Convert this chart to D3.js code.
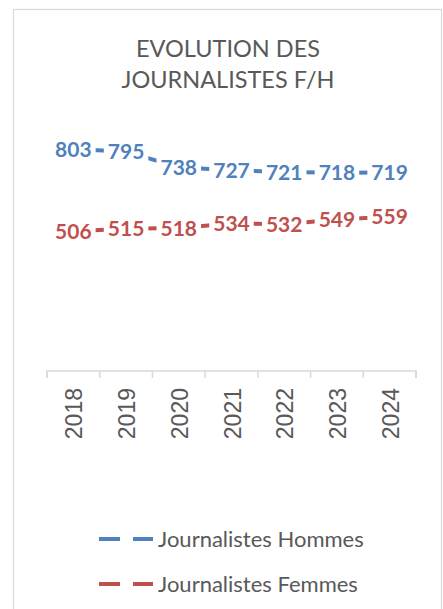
<!DOCTYPE html>
<html><head><meta charset="utf-8">
<script src="https://cdn.jsdelivr.net/npm/d3@7"></script>
<style>
html,body{margin:0;padding:0;background:#fff;}
svg{display:block;}
</style></head>
<body>
<svg id="chart" width="443" height="609"></svg>
<script>
const years = ["2018","2019","2020","2021","2022","2023","2024"];
const hommes = [803, 795, 738, 727, 721, 718, 719];
const femmes = [506, 515, 518, 534, 532, 549, 559];
const seriesNames = ["Journalistes Hommes", "Journalistes Femmes"];
const seriesColors = ["#4F81BD", "#C0504D"];
const titleLines = ["EVOLUTION DES", "JOURNALISTES F/H"];

const svg = d3.select("#chart");
const gray = "#595959";

// chart frame
svg.append("rect").attr("x", 13.5).attr("y", 9.5).attr("width", 428).attr("height", 640)
  .attr("fill", "#fff").attr("stroke", "#d9d9d9").attr("stroke-width", 1.2);

// title
svg.append("g").selectAll("text").data(titleLines).join("text")
  .attr("x", 228).attr("y", (d, i) => 57 + i * 31)
  .attr("text-anchor", "middle")
  .attr("font-family", "Lato, 'Open Sans', sans-serif")
  .attr("font-size", 23.5).attr("fill", gray)
  .text(d => d);

const x = d3.scaleBand().domain(years).range([47, 416]);
const y = d3.scaleLinear().domain([0, 1000]).range([371, 95]);

// axis
const axis = d3.axisBottom(x).tickSize(7).tickSizeOuter(7).tickFormat("");
const ag = svg.append("g").attr("transform", "translate(0,371)").call(axis);
ag.select(".domain").attr("stroke", "#d9d9d9").attr("stroke-width", 1.5);
ag.selectAll(".tick line").remove();
// ticks at band boundaries
const bounds = years.map(d => x(d)).concat([x(years[years.length - 1]) + x.bandwidth()]);
ag.selectAll("line.bt").data(bounds).join("line").attr("class", "bt")
  .attr("x1", d => d).attr("x2", d => d).attr("y1", 0).attr("y2", 7)
  .attr("stroke", "#d9d9d9").attr("stroke-width", 1.5);
ag.select(".domain").attr("d", `M${bounds[0]},7V0H${bounds[bounds.length-1]}V7`);

// year labels
svg.append("g").selectAll("text").data(years).join("text")
  .attr("transform", d => `translate(${x(d) + x.bandwidth() / 2 + 9},388) rotate(-90)`)
  .attr("text-anchor", "end")
  .attr("font-family", "'Liberation Sans', Arial, sans-serif")
  .attr("font-size", 23).attr("fill", gray)
  .text(d => d);

const series = [hommes, femmes];
const cx = d => x(d) + x.bandwidth() / 2;
const line = d3.line().x((d, i) => cx(years[i])).y(d => y(d));

series.forEach((vals, si) => {
  svg.append("path").datum(vals).attr("d", line)
    .attr("fill", "none").attr("stroke", seriesColors[si]).attr("stroke-width", 4);
});

series.forEach((vals, si) => {
  const g = svg.append("g");
  const texts = g.selectAll("text").data(vals).join("text")
    .attr("x", (d, i) => cx(years[i])).attr("y", d => y(d))
    .attr("dy", "0.36em")
    .attr("text-anchor", "middle")
    .attr("font-family", "Lato, 'Open Sans', sans-serif")
    .attr("font-weight", "bold")
    .attr("font-size", 21).attr("fill", seriesColors[si])
    .text(d => d);
  texts.each(function () {
    const b = this.getBBox();
    g.insert("rect", "text").attr("x", b.x - 4).attr("y", b.y - 2)
      .attr("width", b.width + 8).attr("height", b.height + 4).attr("fill", "#fff");
  });
});

// legend
const lg = svg.append("g");
seriesNames.forEach((name, i) => {
  const ly = 539 + i * 45;
  lg.append("line").attr("x1", 99).attr("x2", 153).attr("y1", ly).attr("y2", ly)
    .attr("stroke", seriesColors[i]).attr("stroke-width", 4)
    .attr("stroke-dasharray", "21,13");
  lg.append("text").attr("x", 158).attr("y", ly + 7.5)
    .attr("font-family", "Lato, 'Open Sans', sans-serif")
    .attr("font-size", 22).attr("fill", gray).text(name);
});
</script>
</body></html>
